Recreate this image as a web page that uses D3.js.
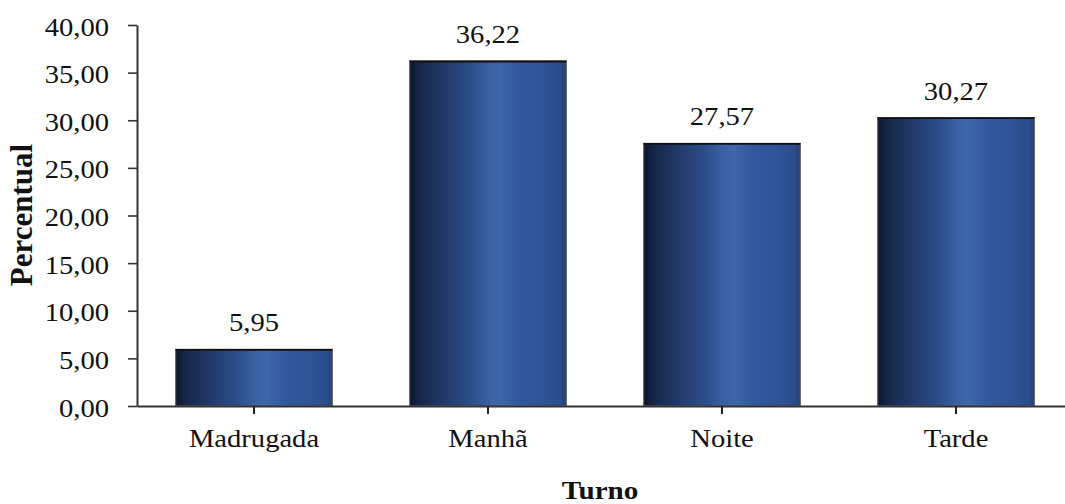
<!DOCTYPE html>
<html>
<head>
<meta charset="utf-8">
<script src="https://cdn.jsdelivr.net/npm/d3@7"></script>
<style>
  html, body { margin: 0; padding: 0; background: #fff; }
  svg { display: block; }
  svg text { font-family: "Times New Roman", "Liberation Serif", Tinos, Times, serif !important; fill: #111; }
</style>
</head>
<body>
<svg id="chart" width="1065" height="504"></svg>
<script>
// Share of occurrences by time of day (percent)
const categories = ["Madrugada", "Manhã", "Noite", "Tarde"];
const values = [5.95, 36.22, 27.57, 30.27];
const yTicks = [0, 5, 10, 15, 20, 25, 30, 35, 40];
const yTitle = "Percentual";
const xTitle = "Turno";

const ptBR = d3.formatLocale({ decimal: ",", thousands: ".", grouping: [3], currency: ["R$", ""] });
const fmt = ptBR.format(".2f");

const svg = d3.select("#chart");
const plot = { left: 137, right: 1073, top: 25, bottom: 406 };

const x = d3.scaleBand()
  .domain(categories)
  .range([plot.left, plot.right])
  .paddingInner(0.33)
  .paddingOuter(0.165);

const y = d3.scaleLinear()
  .domain([0, 40])
  .range([plot.bottom, plot.top]);

// Horizontal shading across each bar, giving the cylinder look
const defs = svg.append("defs");
const grad = defs.append("linearGradient")
  .attr("id", "barShade")
  .attr("x1", "0%").attr("x2", "100%").attr("y1", "0%").attr("y2", "0%");
[
  [0, "#0c162a"], [0.06, "#152548"], [0.2, "#203764"], [0.38, "#2b4c88"],
  [0.52, "#3b62a6"], [0.58, "#3e66aa"], [0.7, "#3157a0"], [0.85, "#2e5398"],
  [0.96, "#2b4c8b"], [1, "#243f73"]
].forEach(([o, c]) => grad.append("stop").attr("offset", o).attr("stop-color", c));

const sx = 1.1; // horizontal stretch of the body text
function stretchedText(sel, tx, ty) {
  return sel.attr("transform", (d, i) => `translate(${tx(d, i)},${ty(d, i)}) scale(${sx},1)`);
}

// Bars
const bars = svg.append("g").selectAll("g.bar")
  .data(categories.map((c, i) => ({ c, v: values[i] })))
  .join("g").attr("class", "bar");

bars.append("rect")
  .attr("x", d => x(d.c))
  .attr("y", d => y(d.v))
  .attr("width", x.bandwidth())
  .attr("height", d => y(0) - y(d.v))
  .attr("fill", "url(#barShade)")
  .attr("stroke", "#6b6b6b")
  .attr("stroke-width", 1.2);

bars.append("line")
  .attr("x1", d => x(d.c))
  .attr("x2", d => x(d.c) + x.bandwidth())
  .attr("y1", d => y(d.v) + 0.5)
  .attr("y2", d => y(d.v) + 0.5)
  .attr("stroke", "#111")
  .attr("stroke-width", 1.8);

// Value labels
svg.append("g").selectAll("text")
  .data(categories.map((c, i) => ({ c, v: values[i] })))
  .join("text")
  .attr("text-anchor", "middle")
  .style("font-size", "26px")
  .text(d => fmt(d.v))
  .call(stretchedText, d => x(d.c) + x.bandwidth() / 2, d => y(d.v) - 18);

// Y axis
const yAxis = svg.append("g")
  .attr("transform", `translate(${plot.left},0)`)
  .call(d3.axisLeft(y).tickValues(yTicks).tickSize(9).tickSizeOuter(0).tickFormat(fmt));
yAxis.attr("font-family", null);
yAxis.select(".domain").attr("stroke", "#333").attr("stroke-width", 2);
yAxis.selectAll(".tick line").attr("stroke", "#333").attr("stroke-width", 1.6);
yAxis.selectAll(".tick text")
  .attr("x", null).attr("dy", null)
  .attr("text-anchor", "end")
  .style("font-size", "26px")
  .attr("fill", "#111")
  .call(stretchedText, () => -28, () => 10);

// X axis
const xAxis = svg.append("g")
  .attr("transform", `translate(0,${plot.bottom})`)
  .call(d3.axisBottom(x).tickSize(8).tickSizeOuter(0));
xAxis.attr("font-family", null);
xAxis.select(".domain").attr("stroke", "#333").attr("stroke-width", 2);
xAxis.selectAll(".tick line").attr("stroke", "#222").attr("stroke-width", 2);
xAxis.selectAll(".tick text")
  .attr("y", null).attr("dy", null)
  .attr("text-anchor", "middle")
  .style("font-size", "26px")
  .attr("fill", "#111")
  .call(stretchedText, () => 0, () => 41);

// Axis titles
svg.append("text")
  .attr("text-anchor", "middle")
  .style("font-size", "31px")
  .style("font-weight", "bold")
  .attr("transform", `translate(32,215) rotate(-90)`)
  .text(yTitle);

svg.append("text")
  .attr("text-anchor", "middle")
  .style("font-size", "26px")
  .style("font-weight", "bold")
  .attr("transform", `translate(600,499) scale(1.12,1)`)
  .text(xTitle);
</script>
</body>
</html>
